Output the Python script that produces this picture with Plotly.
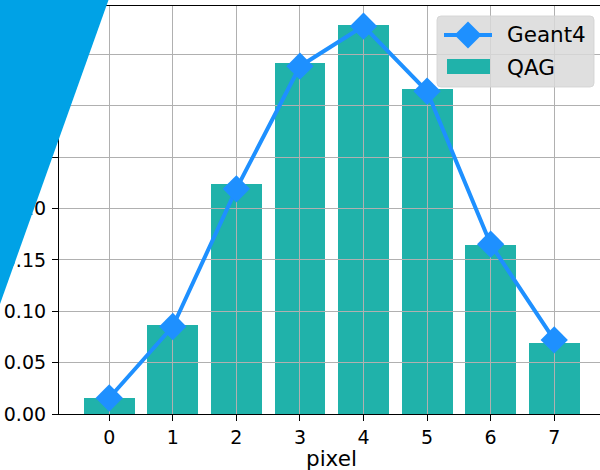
import plotly.graph_objects as go

# Energy fraction per pixel: Geant4 simulation vs. QAG integration
pixels = [0, 1, 2, 3, 4, 5, 6, 7]
qag = [0.0153, 0.0863, 0.2242, 0.3420, 0.3783, 0.3169, 0.1648, 0.0689]
geant4 = [0.0156, 0.0852, 0.2192, 0.3386, 0.3776, 0.3142, 0.1653, 0.0721]
y_ticks = [0.00, 0.05, 0.10, 0.15, 0.20, 0.25, 0.30, 0.35]

W, H = 600, 470
ML, MR, MT, MB = 59, 0, 6, 56
PW, PH = W - ML - MR, H - MT - MB

FONT = "DejaVu Sans"
BLUE = "#1E90FF"
TEAL = "#20B2AA"
GRID = "#b0b0b0"

bar_w = 0.8
x_lo = -bar_w / 2 - 0.05 * (len(pixels) - 1 + bar_w)
x_hi = 7.72
y_hi = max(qag + geant4) * 1.05


def px(x):
    return (x - ML) / PW


def py(y):
    return (H - MB - y) / PH


fig = go.Figure()

# bars live on the lower subplot, the grid and the line on the upper one
fig.add_trace(go.Bar(x=pixels, y=qag, width=bar_w, marker=dict(color=TEAL, line=dict(width=0)),
                     name="QAG", showlegend=False, xaxis="x", yaxis="y"))
fig.add_trace(go.Scatter(x=pixels, y=geant4, mode="lines+markers", name="Geant4",
                         line=dict(color=BLUE, width=4),
                         marker=dict(symbol="diamond", size=21, color=BLUE, line=dict(width=0)),
                         showlegend=False, xaxis="x2", yaxis="y2"))

tick_font = dict(family=FONT, size=19, color="black")
fig.update_layout(
    width=W, height=H,
    margin=dict(l=ML, r=MR, t=MT, b=MB, pad=0),
    paper_bgcolor="white", plot_bgcolor="rgba(0,0,0,0)",
    bargap=0,
    xaxis=dict(range=[x_lo, x_hi], domain=[0, 1], anchor="y", tickmode="array", tickvals=pixels,
               ticktext=[str(p) for p in pixels], ticks="outside", ticklen=6, tickwidth=1,
               tickcolor="black", tickfont=tick_font, showgrid=False, zeroline=False,
               showline=True, linecolor="black", linewidth=1.2, mirror=True),
    yaxis=dict(range=[0, y_hi], domain=[0, 1], anchor="x", tickmode="array", tickvals=y_ticks,
               ticktext=[f"{v:.2f}" for v in y_ticks], ticks="outside", ticklen=6, tickwidth=1,
               tickcolor="black", tickfont=tick_font, showgrid=False, zeroline=False,
               showline=True, linecolor="black", linewidth=1.2, ticklabelstandoff=2),
    xaxis2=dict(range=[x_lo, x_hi], domain=[0, 1], anchor="y2", tickmode="array", tickvals=pixels,
                showticklabels=False, showgrid=True, gridcolor=GRID, gridwidth=1,
                zeroline=False, showline=False),
    yaxis2=dict(range=[0, y_hi], domain=[0, 1], anchor="x2", tickmode="array", tickvals=y_ticks,
                showticklabels=False, showgrid=True, gridcolor=GRID, gridwidth=1,
                zeroline=False, showline=False),
)

# legend drawn by hand: rounded box, line-with-diamond handle, patch handle
lx0, lx1, ly0, ly1, r = 437, 594, 16, 87, 4
box = (f"M{px(lx0 + r)},{py(ly0)} L{px(lx1 - r)},{py(ly0)} "
       f"Q{px(lx1)},{py(ly0)} {px(lx1)},{py(ly0 + r)} L{px(lx1)},{py(ly1 - r)} "
       f"Q{px(lx1)},{py(ly1)} {px(lx1 - r)},{py(ly1)} L{px(lx0 + r)},{py(ly1)} "
       f"Q{px(lx0)},{py(ly1)} {px(lx0)},{py(ly1 - r)} L{px(lx0)},{py(ly0 + r)} "
       f"Q{px(lx0)},{py(ly0)} {px(lx0 + r)},{py(ly0)} Z")
shapes = [
    dict(type="path", xref="paper", yref="paper", path=box,
         fillcolor="rgba(217,217,217,0.85)", line=dict(color="rgba(210,210,210,0.85)", width=1), layer="above"),
    dict(type="line", xref="paper", yref="paper", x0=px(444), x1=px(492), y0=py(35), y1=py(35),
         line=dict(color=BLUE, width=4), layer="above"),
    dict(type="path", xref="paper", yref="paper",
         path=f"M{px(468)},{py(21.5)} L{px(481.5)},{py(35)} L{px(468)},{py(48.5)} L{px(454.5)},{py(35)} Z",
         fillcolor=BLUE, line=dict(width=0), layer="above"),
    dict(type="rect", xref="paper", yref="paper", x0=px(447), x1=px(490), y0=py(59), y1=py(74),
         fillcolor=TEAL, line=dict(width=0), layer="above"),
    # corner banner
    dict(type="path", xref="paper", yref="paper",
         path=f"M{px(0)},{py(0)} L{px(108.5)},{py(0)} L{px(0)},{py(304)} Z",
         fillcolor="rgb(0,162,230)", line=dict(width=0), layer="above"),
]
fig.update_layout(shapes=shapes)

leg_font = dict(family=FONT, size=21.5, color="black")
fig.add_annotation(x=px(505), y=py(35), xref="paper", yref="paper", text="Geant4",
                   showarrow=False, xanchor="left", yanchor="middle", font=leg_font)
fig.add_annotation(x=px(505), y=py(67), xref="paper", yref="paper", text="QAG",
                   showarrow=False, xanchor="left", yanchor="middle", font=leg_font)
fig.add_annotation(x=px(331.5), y=py(458), xref="paper", yref="paper", text="pixel",
                   showarrow=False, xanchor="center", yanchor="middle",
                   font=dict(family=FONT, size=21.5, color="black"))

fig.write_html("out.html")
